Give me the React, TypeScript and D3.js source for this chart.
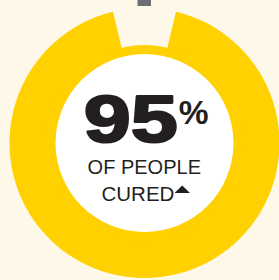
import React from "react";
import * as d3 from "d3";

const W = 279;
const H = 280;

// data
const categories = ["Cured", "Not cured"];
const values = [95, 5];
const headline = "95";
const unit = "%";
const labelLines = ["OF PEOPLE", "CURED"];

const COLORS = {
  bg: "#FEF8E8",
  yellow: "#FFD100",
  white: "#FFFFFF",
  text: "#231F20",
  pointer: "#6D6E71",
};

export default function App() {
  const cx = 144.5;
  const cy = 143;
  const outerR = 135;
  const ringInner = 97;
  const bandOuter = 98;
  const whiteR = 89;

  const total = d3.sum(values);
  const angle = d3.scaleLinear().domain([0, total]).range([0, 2 * Math.PI]);
  const pad = (4.5 * Math.PI) / 180;
  const gap = angle(values[1]);
  const start = gap / 2 + pad;
  const end = start + angle(values[0]) - 2 * pad;

  const arc = d3
    .arc<any>()
    .innerRadius(ringInner)
    .outerRadius(outerR)
    .startAngle(start)
    .endAngle(end);

  const font = "'Liberation Sans', Arial, Helvetica, sans-serif";

  return (
    <svg
      width={W}
      height={H}
      style={{ position: "absolute", left: 0, top: 0, display: "block" }}
    >
      <rect x={0} y={0} width={W} height={H} fill={COLORS.bg} />
      <rect x={137.5} y={0} width={13.5} height={6} fill={COLORS.pointer} />
      <g transform={`translate(${cx},${cy})`}>
        <path d={arc(categories[0]) || ""} fill={COLORS.yellow} />
        <circle r={bandOuter} fill={COLORS.yellow} />
        <circle r={whiteR} fill={COLORS.white} />
      </g>
      <text
        x={130.8}
        y={142}
        textAnchor="middle"
        fontFamily={font}
        fontWeight={700}
        fontSize={67.5}
        textLength={94}
        lengthAdjust="spacingAndGlyphs"
        fill={COLORS.text}
        stroke={COLORS.text}
        strokeWidth={2.2}
        strokeLinejoin="round"
      >
        {headline}
      </text>
      <text
        x={178.7}
        y={123.5}
        fontFamily={font}
        fontWeight={700}
        fontSize={33.5}
        fill={COLORS.text}
      >
        {unit}
      </text>
      <text
        x={144.3}
        y={174.3}
        textAnchor="middle"
        fontFamily={font}
        fontSize={20}
        fill={COLORS.text}
      >
        {labelLines[0]}
      </text>
      <text
        x={101.5}
        y={200.5}
        fontFamily={font}
        fontSize={20.5}
        fill={COLORS.text}
      >
        {labelLines[1]}
      </text>
      <path d="M174.5,193 L190,193 L182.25,185.5 Z" fill={COLORS.text} />
    </svg>
  );
}
